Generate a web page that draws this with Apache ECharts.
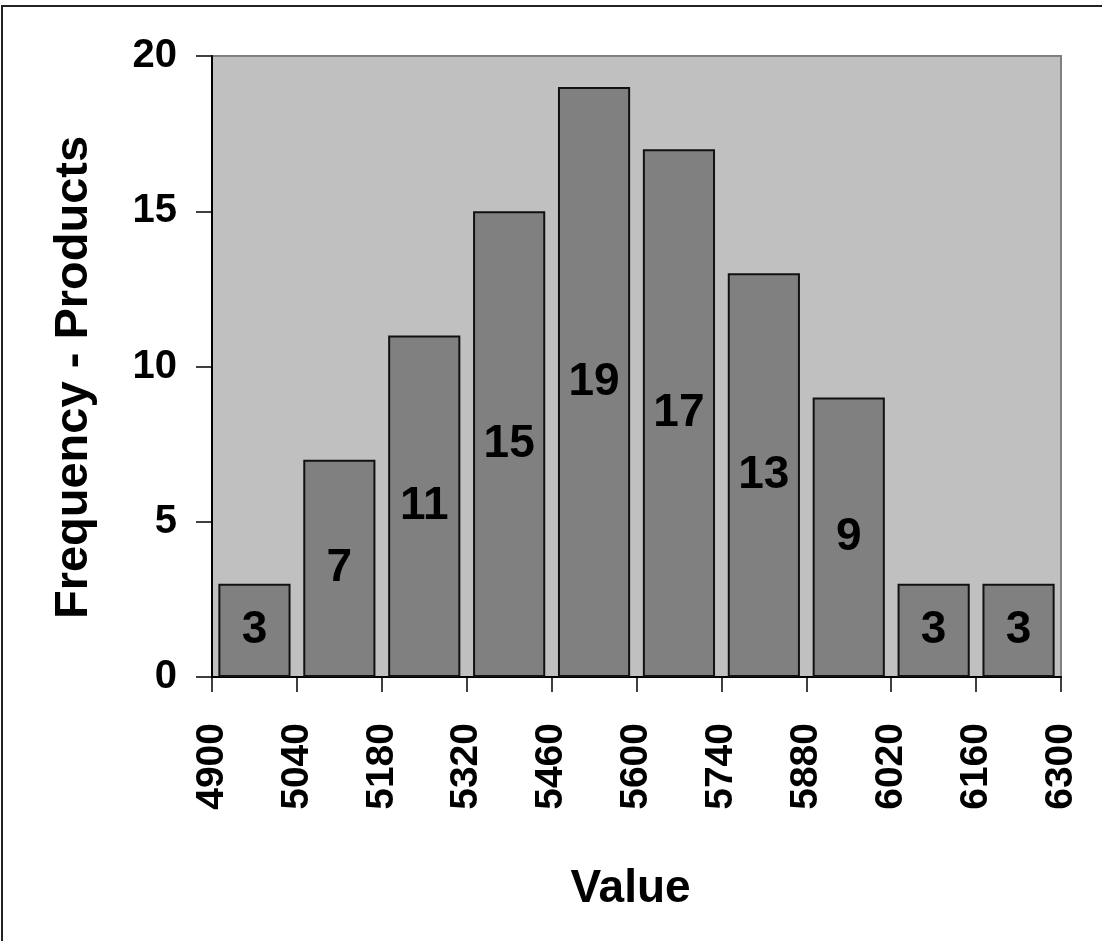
<!DOCTYPE html>
<html>
<head>
<meta charset="utf-8">
<script src="https://cdn.jsdelivr.net/npm/echarts@6/dist/echarts.min.js"></script>
<style>
html,body{margin:0;padding:0;background:#fff;}
#chart{width:1102px;height:941px;}
</style>
</head>
<body>
<div id="chart"></div>
<script>
// Histogram bins (lower edges) and frequencies
var binEdges = [4900, 5040, 5180, 5320, 5460, 5600, 5740, 5880, 6020, 6160, 6300];
var binLabels = ['4900-5040','5040-5180','5180-5320','5320-5460','5460-5600','5600-5740','5740-5880','5880-6020','6020-6160','6160-6300'];
var frequencies = [3, 7, 11, 15, 19, 17, 13, 9, 3, 3];
var yTicks = [0, 5, 10, 15, 20];

var FONT = '"Liberation Sans", Arial, sans-serif';
var chart = echarts.init(document.getElementById('chart'));
chart.setOption({
  backgroundColor: '#ffffff',
  animation: false,
  graphic: [{
    type: 'rect',
    shape: {x: 2, y: 6, width: 1200, height: 1000},
    style: {fill: 'none', stroke: '#222', lineWidth: 2},
    z: 100
  }],
  grid: {
    left: 212, top: 56, right: 41, bottom: 264,
    show: true, backgroundColor: '#c0c0c0', borderColor: '#808080', borderWidth: 2
  },
  xAxis: [{
    type: 'category',
    data: binLabels,
    show: false
  }, {
    type: 'value',
    position: 'bottom',
    min: binEdges[0], max: binEdges[binEdges.length - 1], interval: 140,
    name: 'Value',
    nameLocation: 'middle',
    nameGap: 189,
    nameTextStyle: {fontFamily: FONT, fontWeight: 'bold', fontSize: 46, color: '#000', padding: [0, 12, 0, 0]},
    axisLine: {show: true, lineStyle: {color: '#000', width: 2}},
    axisTick: {show: true, inside: false, length: 15, lineStyle: {color: '#000', width: 1.5}},
    splitLine: {show: false},
    axisLabel: {
      rotate: 90, margin: 46,
      fontFamily: FONT, fontWeight: 'bold', fontSize: 39, color: '#000',
      showMinLabel: true, showMaxLabel: true,
      formatter: function (v) { return String(v); }
    }
  }],
  yAxis: {
    type: 'value',
    min: 0, max: 20, interval: 5,
    name: 'Frequency - Products',
    nameLocation: 'middle',
    nameGap: 114,
    nameTextStyle: {fontFamily: FONT, fontWeight: 'bold', fontSize: 47, color: '#000', padding: [0, 22, 0, 0]},
    axisLine: {show: true, lineStyle: {color: '#000', width: 2}},
    axisTick: {show: true, inside: false, length: 16, lineStyle: {color: '#000', width: 1.5}},
    splitLine: {show: false},
    axisLabel: {margin: 35, fontFamily: FONT, fontWeight: 'bold', fontSize: 40, color: '#000',
      formatter: function (v) { return yTicks.indexOf(v) >= 0 ? String(v) : ''; }}
  },
  series: [{
    type: 'bar',
    xAxisIndex: 0,
    data: frequencies,
    barCategoryGap: '15%',
    itemStyle: {color: '#808080', borderColor: '#111', borderWidth: 2},
    label: {
      show: true, position: 'inside',
      fontFamily: FONT, fontWeight: 'bold', fontSize: 46, color: '#000'
    }
  }]
});
</script>
</body>
</html>
